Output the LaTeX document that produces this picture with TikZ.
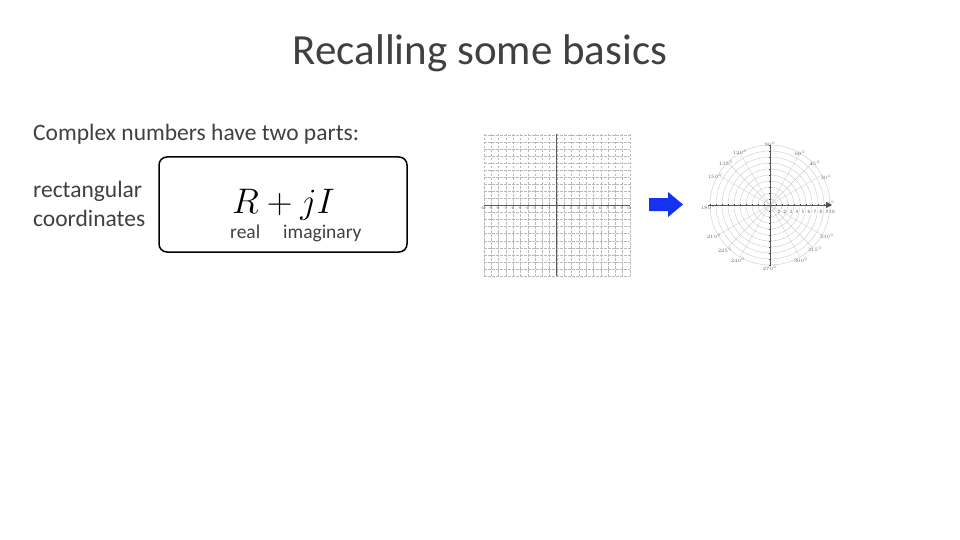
\RequirePackage{fix-cm}
\documentclass[tikz,border=0pt]{standalone}
\usepackage{fontspec}
\setmainfont{Carlito}
\usetikzlibrary{arrows.meta}
\definecolor{arrowblue}{RGB}{20,50,240}
\definecolor{gridgray}{RGB}{185,185,185}
\definecolor{circgray}{RGB}{210,210,210}
\tikzset{
  txt/.style={inner sep=0pt, anchor=base west, text=black!75},
  gridline/.style={gridgray, line width=0.5pt, dash pattern=on 2.5pt off 1.5pt},
  axisline/.style={black!65, line width=0.7pt},
  tinylbl/.style={inner sep=0pt, font=\fontsize{5}{6}\selectfont, text=black!60},
}
\begin{document}
\begin{tikzpicture}[x=1pt,y=-1pt]
\useasboundingbox (0,0) rectangle (960,540);
% title
\node[inner sep=0pt, anchor=base, font=\fontsize{43}{50}\selectfont, text=black!75] (title) at (480,65) {Recalling some basics};
\node[txt, font=\fontsize{23.5}{28}\selectfont] (intro) at (33,141) {Complex numbers have two parts:};
\node[txt, font=\fontsize{23.5}{28}\selectfont] (rect1) at (33,197) {rectangular};
\node[txt, font=\fontsize{23.5}{28}\selectfont] (rect2) at (33,226) {coordinates};
% box
\draw[line width=1.5pt, rounded corners=8pt] (159,157) rectangle (407,252);
\node[inner sep=0pt, anchor=base west, font=\fontsize{35.5}{42}\selectfont] (eq) at (232,213) {$R+jI$};
\node[txt, font=\fontsize{19.5}{23}\selectfont] (real) at (230,238) {real};
\node[txt, font=\fontsize{19.5}{23}\selectfont] (imag) at (283,238) {imaginary};
% rectangular grid
\foreach \i in {0,...,20} {
  \draw[gridline] ({484+\i*7.3},134) -- ({484+\i*7.3},276);
  \draw[gridline] (484,{135+\i*7.05}) -- (630,{135+\i*7.05});
}
\draw[axisline] (556,134) -- (556,276);
\draw[axisline] (484,205) -- (630,205);
\foreach \i in {1,...,10} {
  \node[tinylbl, font=\fontsize{4}{5}\selectfont] at ({556+\i*7.3},208) {\i};
  \node[tinylbl, font=\fontsize{4}{5}\selectfont] at ({556-\i*7.3},208) {-\i};
}
% blue arrow
\fill[arrowblue] (649,198) -- (668,198) -- (668,192) -- (683,204.5) -- (668,217) -- (668,211) -- (649,211) -- cycle;
% polar plot
\coordinate (pc) at (770,205);
\foreach \r in {6,12,...,60} {
  \draw[circgray, line width=0.5pt] (pc) circle (\r);
}
\foreach \a in {30,45,60,120,135,150,210,225,240,300,315,330} {
  \draw[circgray, line width=0.4pt] (pc) -- ++({-\a}:60);
}
\draw[axisline] (708,205) -- (830,205);
\fill[black!70] (832,205) -- (826,202) -- (826,208) -- cycle;
\draw[axisline] (770,145) -- (770,266);
\foreach \i in {1,...,10} {
  \draw[black!70, line width=0.4pt] ({770+\i*6},204) -- ({770+\i*6},206);
  \draw[black!70, line width=0.4pt] ({770-\i*6},204) -- ({770-\i*6},206);
  \draw[black!70, line width=0.4pt] (769,{205+\i*6}) -- (771,{205+\i*6});
  \draw[black!70, line width=0.4pt] (769,{205-\i*6}) -- (771,{205-\i*6});
}
\foreach \i in {1,...,9} {
  \node[tinylbl] at ({773+\i*6},212) {\i};
}
\node[tinylbl] at (832,212) {10};
\foreach \a/\x/\y in {90/770/144, 60/800/153, 45/815/163, 30/826/177, 0/831/203,
  120/740/152, 135/726/163, 150/715/176, 180/708/207,
  210/714/236, 225/725/250, 240/738/260, 270/770/268,
  300/801/260, 315/815/249, 330/827/236} {
  \node[tinylbl] at (\x,\y) {$\a^\circ$};
}
\end{tikzpicture}
\end{document}
